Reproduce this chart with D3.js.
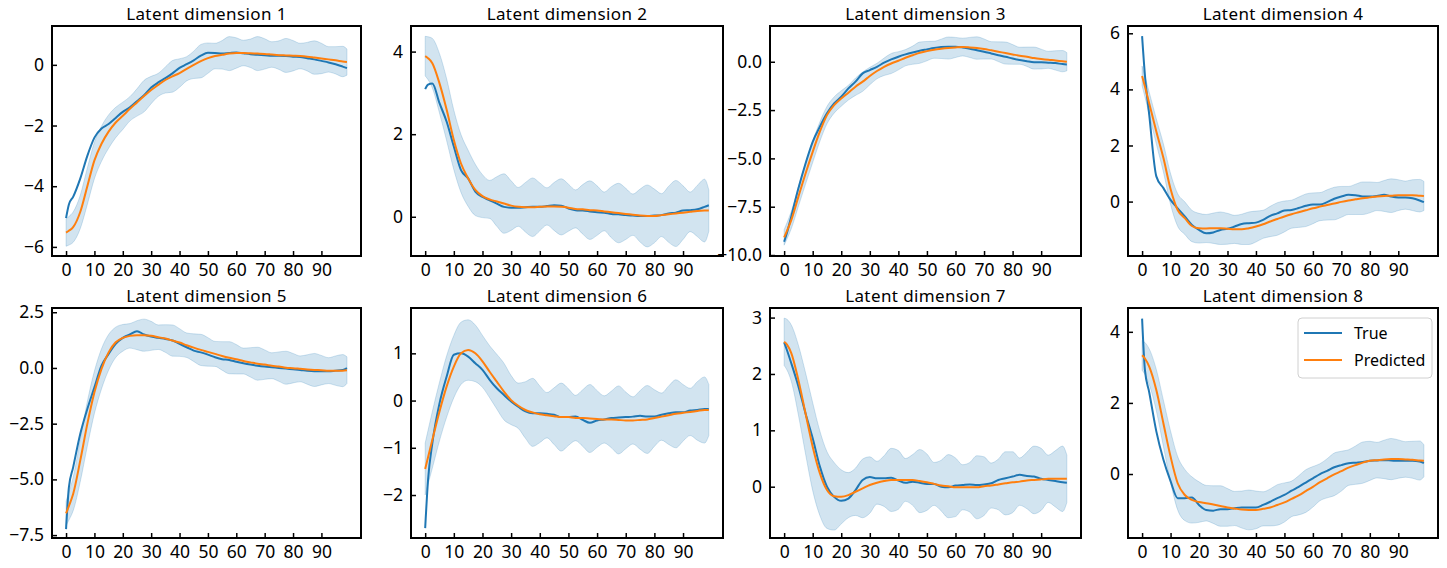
<!DOCTYPE html>
<html>
<head>
<meta charset="utf-8">
<script src="https://cdn.jsdelivr.net/npm/d3@7"></script>
<style>
  body { margin: 0; background: #fff; }
  text { font-family: "Noto Sans", sans-serif; fill: #000; }
</style>
</head>
<body>
<div id="chart"></div>
<script>
// time steps the values were read at
var steps = [0,1,2.5,5,7.5,10,12.5,15,17.5,20,22.5,25,27.5,30,32.5,35,37.5,40,42.5,45,47.5,50,52.5,55,57.5,60,62.5,65,67.5,70,72.5,75,77.5,80,82.5,85,87.5,90,92.5,95,97.5,99];

// dimension 1
var true1 = [-5.05,-4.6,-4.35,-3.75,-3.0,-2.4,-2.1,-1.95,-1.75,-1.55,-1.4,-1.2,-1.0,-0.75,-0.58,-0.44,-0.28,-0.1,0.02,0.15,0.3,0.4,0.39,0.37,0.39,0.41,0.38,0.35,0.33,0.32,0.3,0.3,0.29,0.27,0.26,0.22,0.18,0.13,0.08,0.02,-0.06,-0.11];
var pred1 = [-5.53,-5.47,-5.35,-4.85,-4.0,-3.15,-2.6,-2.2,-1.9,-1.68,-1.45,-1.24,-1.03,-0.83,-0.66,-0.5,-0.38,-0.27,-0.13,0.0,0.12,0.22,0.29,0.33,0.37,0.39,0.39,0.38,0.37,0.36,0.34,0.32,0.31,0.3,0.29,0.27,0.24,0.21,0.18,0.15,0.11,0.09];
var sd1 = [0.45,0.47,0.5,0.55,0.6,0.6,0.58,0.55,0.5,0.45,0.4,0.45,0.52,0.45,0.38,0.43,0.52,0.47,0.4,0.45,0.55,0.5,0.42,0.47,0.56,0.5,0.42,0.47,0.56,0.5,0.42,0.47,0.56,0.5,0.42,0.47,0.55,0.5,0.42,0.45,0.5,0.43];

// dimension 2
var true2 = [3.09,3.2,3.23,2.75,2.3,1.7,1.13,0.93,0.61,0.48,0.4,0.32,0.24,0.22,0.22,0.23,0.24,0.24,0.26,0.28,0.27,0.2,0.16,0.15,0.13,0.11,0.1,0.07,0.06,0.04,0.03,0.02,0.02,0.03,0.04,0.08,0.1,0.15,0.16,0.18,0.24,0.28];
var pred2 = [3.89,3.84,3.72,3.23,2.59,1.86,1.29,0.93,0.65,0.5,0.42,0.37,0.32,0.27,0.24,0.23,0.23,0.24,0.25,0.25,0.24,0.22,0.19,0.18,0.16,0.15,0.13,0.11,0.09,0.07,0.05,0.03,0.02,0.02,0.04,0.06,0.08,0.1,0.12,0.14,0.15,0.15];
var sd2 = [0.48,0.52,0.6,0.72,0.75,0.72,0.7,0.68,0.62,0.52,0.46,0.6,0.72,0.6,0.47,0.6,0.71,0.58,0.45,0.58,0.68,0.57,0.46,0.6,0.71,0.6,0.47,0.62,0.72,0.62,0.5,0.64,0.75,0.65,0.52,0.68,0.8,0.65,0.48,0.62,0.76,0.5];

// dimension 3
var true3 = [-9.31,-8.85,-8.0,-6.55,-5.26,-4.14,-3.36,-2.67,-2.16,-1.81,-1.38,-1.03,-0.6,-0.43,-0.26,-0.05,0.12,0.26,0.38,0.48,0.57,0.64,0.71,0.76,0.78,0.78,0.74,0.67,0.6,0.52,0.43,0.34,0.26,0.17,0.09,0.03,-0.02,-0.03,-0.05,-0.07,-0.12,-0.14];
var pred3 = [-9.09,-8.75,-8.19,-6.98,-5.78,-4.66,-3.62,-2.76,-2.24,-1.9,-1.6,-1.29,-1.03,-0.74,-0.48,-0.26,-0.09,0.05,0.21,0.34,0.47,0.55,0.62,0.67,0.71,0.74,0.76,0.74,0.71,0.66,0.59,0.52,0.45,0.38,0.31,0.26,0.19,0.14,0.1,0.07,0.03,0.0];
var sd3 = [0.4,0.42,0.45,0.5,0.55,0.55,0.5,0.45,0.42,0.4,0.38,0.45,0.5,0.45,0.4,0.45,0.52,0.47,0.42,0.47,0.55,0.5,0.44,0.5,0.57,0.52,0.46,0.52,0.58,0.52,0.45,0.51,0.57,0.51,0.44,0.5,0.57,0.51,0.44,0.5,0.55,0.47];

// dimension 4
var true4 = [5.9,4.5,3.1,0.9,0.48,0.06,-0.24,-0.53,-0.83,-1.01,-1.13,-1.1,-1.01,-0.97,-0.89,-0.8,-0.77,-0.75,-0.65,-0.51,-0.42,-0.32,-0.3,-0.23,-0.15,-0.1,-0.1,-0.02,0.1,0.18,0.24,0.23,0.18,0.18,0.2,0.24,0.18,0.15,0.15,0.12,0.04,-0.02];
var pred4 = [4.48,4.1,3.5,2.5,1.55,0.45,-0.3,-0.59,-0.87,-0.95,-0.96,-0.95,-0.95,-0.97,-0.99,-0.99,-0.95,-0.89,-0.81,-0.71,-0.62,-0.53,-0.45,-0.38,-0.31,-0.24,-0.18,-0.12,-0.07,-0.01,0.04,0.08,0.12,0.15,0.18,0.2,0.21,0.23,0.23,0.23,0.21,0.2];
var sd4 = [0.35,0.37,0.4,0.45,0.5,0.55,0.58,0.58,0.56,0.53,0.5,0.54,0.58,0.55,0.5,0.54,0.58,0.55,0.5,0.54,0.58,0.55,0.5,0.54,0.58,0.55,0.5,0.54,0.58,0.55,0.5,0.54,0.58,0.55,0.5,0.55,0.6,0.55,0.5,0.55,0.58,0.52];

// dimension 5
var true5 = [-7.23,-5.36,-4.46,-2.96,-1.84,-0.87,0.1,0.63,1.08,1.35,1.5,1.65,1.5,1.41,1.35,1.3,1.23,1.08,0.93,0.78,0.7,0.6,0.48,0.39,0.36,0.28,0.21,0.15,0.1,0.06,0.03,0.0,-0.03,-0.06,-0.09,-0.13,-0.15,-0.15,-0.15,-0.12,-0.09,-0.01];
var pred5 = [-6.53,-6.2,-5.66,-4.16,-2.51,-1.09,-0.04,0.7,1.15,1.35,1.44,1.47,1.47,1.44,1.38,1.32,1.23,1.14,1.02,0.91,0.81,0.72,0.63,0.54,0.46,0.39,0.31,0.25,0.19,0.15,0.1,0.06,0.01,-0.01,-0.04,-0.07,-0.09,-0.1,-0.12,-0.12,-0.12,-0.1];
var sd5 = [0.55,0.63,0.75,0.95,1.0,0.95,0.9,0.8,0.68,0.6,0.55,0.65,0.72,0.65,0.55,0.62,0.7,0.62,0.55,0.62,0.7,0.64,0.56,0.64,0.72,0.66,0.58,0.66,0.74,0.66,0.58,0.66,0.74,0.66,0.58,0.66,0.74,0.66,0.58,0.66,0.72,0.6];

// dimension 6
var true6 = [-2.7,-1.68,-0.9,-0.06,0.51,0.97,1.0,0.93,0.79,0.65,0.44,0.26,0.12,-0.02,-0.13,-0.23,-0.27,-0.27,-0.28,-0.3,-0.35,-0.35,-0.34,-0.41,-0.47,-0.42,-0.4,-0.37,-0.36,-0.35,-0.34,-0.32,-0.34,-0.34,-0.3,-0.27,-0.25,-0.25,-0.21,-0.2,-0.18,-0.18];
var pred6 = [-1.45,-1.2,-0.83,-0.23,0.3,0.72,1.0,1.07,1.0,0.83,0.61,0.4,0.19,0.01,-0.11,-0.2,-0.25,-0.29,-0.31,-0.33,-0.35,-0.35,-0.37,-0.37,-0.38,-0.39,-0.4,-0.4,-0.41,-0.42,-0.42,-0.41,-0.4,-0.37,-0.34,-0.31,-0.28,-0.26,-0.24,-0.22,-0.2,-0.2];
var sd6 = [0.55,0.57,0.6,0.62,0.65,0.66,0.66,0.64,0.6,0.55,0.55,0.58,0.6,0.52,0.48,0.6,0.72,0.6,0.48,0.6,0.72,0.6,0.48,0.6,0.72,0.6,0.5,0.6,0.72,0.6,0.5,0.62,0.72,0.6,0.5,0.62,0.72,0.6,0.5,0.62,0.7,0.54];

// dimension 7
var true7 = [2.56,2.42,2.19,1.78,1.3,0.86,0.36,0.0,-0.18,-0.25,-0.21,-0.06,0.12,0.17,0.15,0.15,0.16,0.11,0.07,0.09,0.07,0.05,0.05,0.0,-0.01,0.02,0.03,0.04,0.03,0.04,0.06,0.12,0.15,0.18,0.21,0.19,0.18,0.14,0.12,0.1,0.08,0.07];
var pred7 = [2.57,2.52,2.37,1.89,1.3,0.71,0.24,-0.06,-0.17,-0.18,-0.15,-0.09,-0.03,0.03,0.07,0.1,0.12,0.12,0.12,0.12,0.1,0.08,0.05,0.02,0.01,-0.01,-0.01,-0.01,-0.01,0.01,0.02,0.04,0.06,0.08,0.09,0.11,0.12,0.13,0.14,0.14,0.14,0.14];
var sd7 = [0.42,0.45,0.5,0.62,0.72,0.78,0.75,0.68,0.6,0.48,0.4,0.42,0.52,0.5,0.38,0.45,0.56,0.52,0.38,0.45,0.56,0.5,0.38,0.45,0.56,0.52,0.4,0.44,0.56,0.52,0.4,0.45,0.56,0.54,0.42,0.5,0.6,0.55,0.42,0.5,0.58,0.42];

// dimension 8
var true8 = [4.37,2.92,2.3,1.2,0.4,-0.2,-0.68,-0.68,-0.66,-0.87,-1.01,-1.03,-0.99,-0.99,-0.96,-0.94,-0.94,-0.94,-0.87,-0.78,-0.68,-0.59,-0.47,-0.36,-0.24,-0.12,0.0,0.09,0.19,0.25,0.3,0.32,0.34,0.37,0.38,0.39,0.38,0.37,0.37,0.37,0.35,0.31];
var pred8 = [3.34,3.25,3.02,2.36,1.42,0.49,-0.26,-0.59,-0.73,-0.79,-0.82,-0.86,-0.9,-0.94,-0.97,-1.0,-1.01,-1.01,-0.98,-0.94,-0.87,-0.8,-0.7,-0.6,-0.48,-0.36,-0.23,-0.12,-0.01,0.08,0.18,0.25,0.32,0.37,0.39,0.41,0.42,0.42,0.41,0.4,0.38,0.37];
var sd8 = [0.42,0.45,0.5,0.58,0.65,0.72,0.75,0.72,0.65,0.57,0.5,0.53,0.57,0.53,0.48,0.52,0.56,0.53,0.48,0.52,0.57,0.55,0.5,0.55,0.6,0.57,0.52,0.55,0.6,0.56,0.5,0.54,0.58,0.55,0.5,0.54,0.58,0.54,0.5,0.52,0.55,0.45];

var titles = ["Latent dimension 1","Latent dimension 2","Latent dimension 3","Latent dimension 4",
              "Latent dimension 5","Latent dimension 6","Latent dimension 7","Latent dimension 8"];
var xTicks = [0,10,20,30,40,50,60,70,80,90];
var yTicks = [[-6,-4,-2,0],[0,2,4],[-10,-7.5,-5,-2.5,0],[0,2,4,6],
              [-7.5,-5,-2.5,0,2.5],[-2,-1,0,1],[0,1,2,3],[0,2,4]];
var legendLabels = ["True","Predicted"];

var trueSeries = [true1,true2,true3,true4,true5,true6,true7,true8];
var predSeries = [pred1,pred2,pred3,pred4,pred5,pred6,pred7,pred8];
var sdSeries = [sd1,sd2,sd3,sd4,sd5,sd6,sd7,sd8];

// axis limits (matplotlib autoscale)
var yLims = [[-6.30,1.28],[-0.95,4.62],[-10.05,1.85],[-1.94,6.26],
             [-7.63,2.69],[-2.91,1.96],[-0.91,3.17],[-1.80,4.67]];
var yDecimals = [0,0,1,0,1,0,0,0];

var blue = "#1f77b4", orange = "#ff7f0e";
var colLeft = [52,411,770,1128], colRight = [361,723,1081,1438];
var rowTop = [26,308], plotH = 230;

var svg = d3.select("#chart").append("svg")
    .attr("width", 1447)
    .attr("height", 568);

for (var i = 0; i < 8; i++) {
  var col = i % 4, row = Math.floor(i / 4);
  var w = colRight[col] - colLeft[col];
  var g = svg.append("g")
      .attr("transform", "translate(" + colLeft[col] + "," + rowTop[row] + ")");

  var x = d3.scaleLinear().domain([-4.95, 103.95]).range([0, w]);
  var y = d3.scaleLinear().domain(yLims[i]).range([plotH, 0]);

  var tr = trueSeries[i], pr = predSeries[i], sd = sdSeries[i];

  var band = d3.area()
      .x(function(d, j){ return x(steps[j]); })
      .y0(function(d, j){ return y(pr[j] - sd[j]); })
      .y1(function(d, j){ return y(pr[j] + sd[j]); })
      .curve(d3.curveMonotoneX);

  g.append("path")
      .datum(pr)
      .attr("d", band)
      .attr("fill", blue)
      .attr("fill-opacity", 0.2)
      .attr("stroke", blue)
      .attr("stroke-opacity", 0.2)
      .attr("stroke-width", 1);

  var line = d3.line()
      .x(function(d, j){ return x(steps[j]); })
      .y(function(d){ return y(d); })
      .curve(d3.curveMonotoneX);

  g.append("path").datum(tr).attr("d", line)
      .attr("fill", "none").attr("stroke", blue).attr("stroke-width", 2);
  g.append("path").datum(pr).attr("d", line)
      .attr("fill", "none").attr("stroke", orange).attr("stroke-width", 2);

  // axes, ticks pointing inwards
  var xa = g.append("g")
      .attr("transform", "translate(0," + plotH + ")")
      .call(d3.axisBottom(x).tickValues(xTicks).tickSizeInner(-5).tickSizeOuter(0).tickPadding(8));
  var fmt = d3.format(yDecimals[i] ? ".1f" : "d");
  var ya = g.append("g")
      .call(d3.axisLeft(y).tickValues(yTicks[i]).tickFormat(fmt).tickSizeInner(-5).tickSizeOuter(0).tickPadding(8));

  [xa, ya].forEach(function(a){
    a.select(".domain").remove();
    a.selectAll(".tick line").attr("stroke", "#000").attr("stroke-width", 1.5);
    a.selectAll("text").attr("font-size", 17.5).attr("fill", "#000")
      .style("font-family", '"Noto Sans", sans-serif');
  });

  g.append("rect")
      .attr("width", w).attr("height", plotH)
      .attr("fill", "none").attr("stroke", "#000").attr("stroke-width", 2);

  g.append("text")
      .attr("x", w / 2).attr("y", -6)
      .attr("text-anchor", "middle")
      .attr("font-size", 17)
      .attr("letter-spacing", 0.4)
      .text(titles[i]);

  if (i == 7) {
    var lg = g.append("g").attr("transform", "translate(" + (w - 140) + ",10)");
    lg.append("rect")
        .attr("width", 134).attr("height", 60).attr("rx", 4)
        .attr("fill", "#fff").attr("fill-opacity", 0.8)
        .attr("stroke", "#d0d0d0").attr("stroke-width", 1);
    [blue, orange].forEach(function(c, k){
      lg.append("line")
          .attr("x1", 6).attr("x2", 44)
          .attr("y1", 15 + k * 27).attr("y2", 15 + k * 27)
          .attr("stroke", c).attr("stroke-width", 2);
      lg.append("text")
          .attr("x", 56).attr("y", 15 + k * 27)
          .attr("dy", "0.35em")
          .attr("font-size", 16)
          .text(legendLabels[k]);
    });
  }
}
</script>
</body>
</html>
